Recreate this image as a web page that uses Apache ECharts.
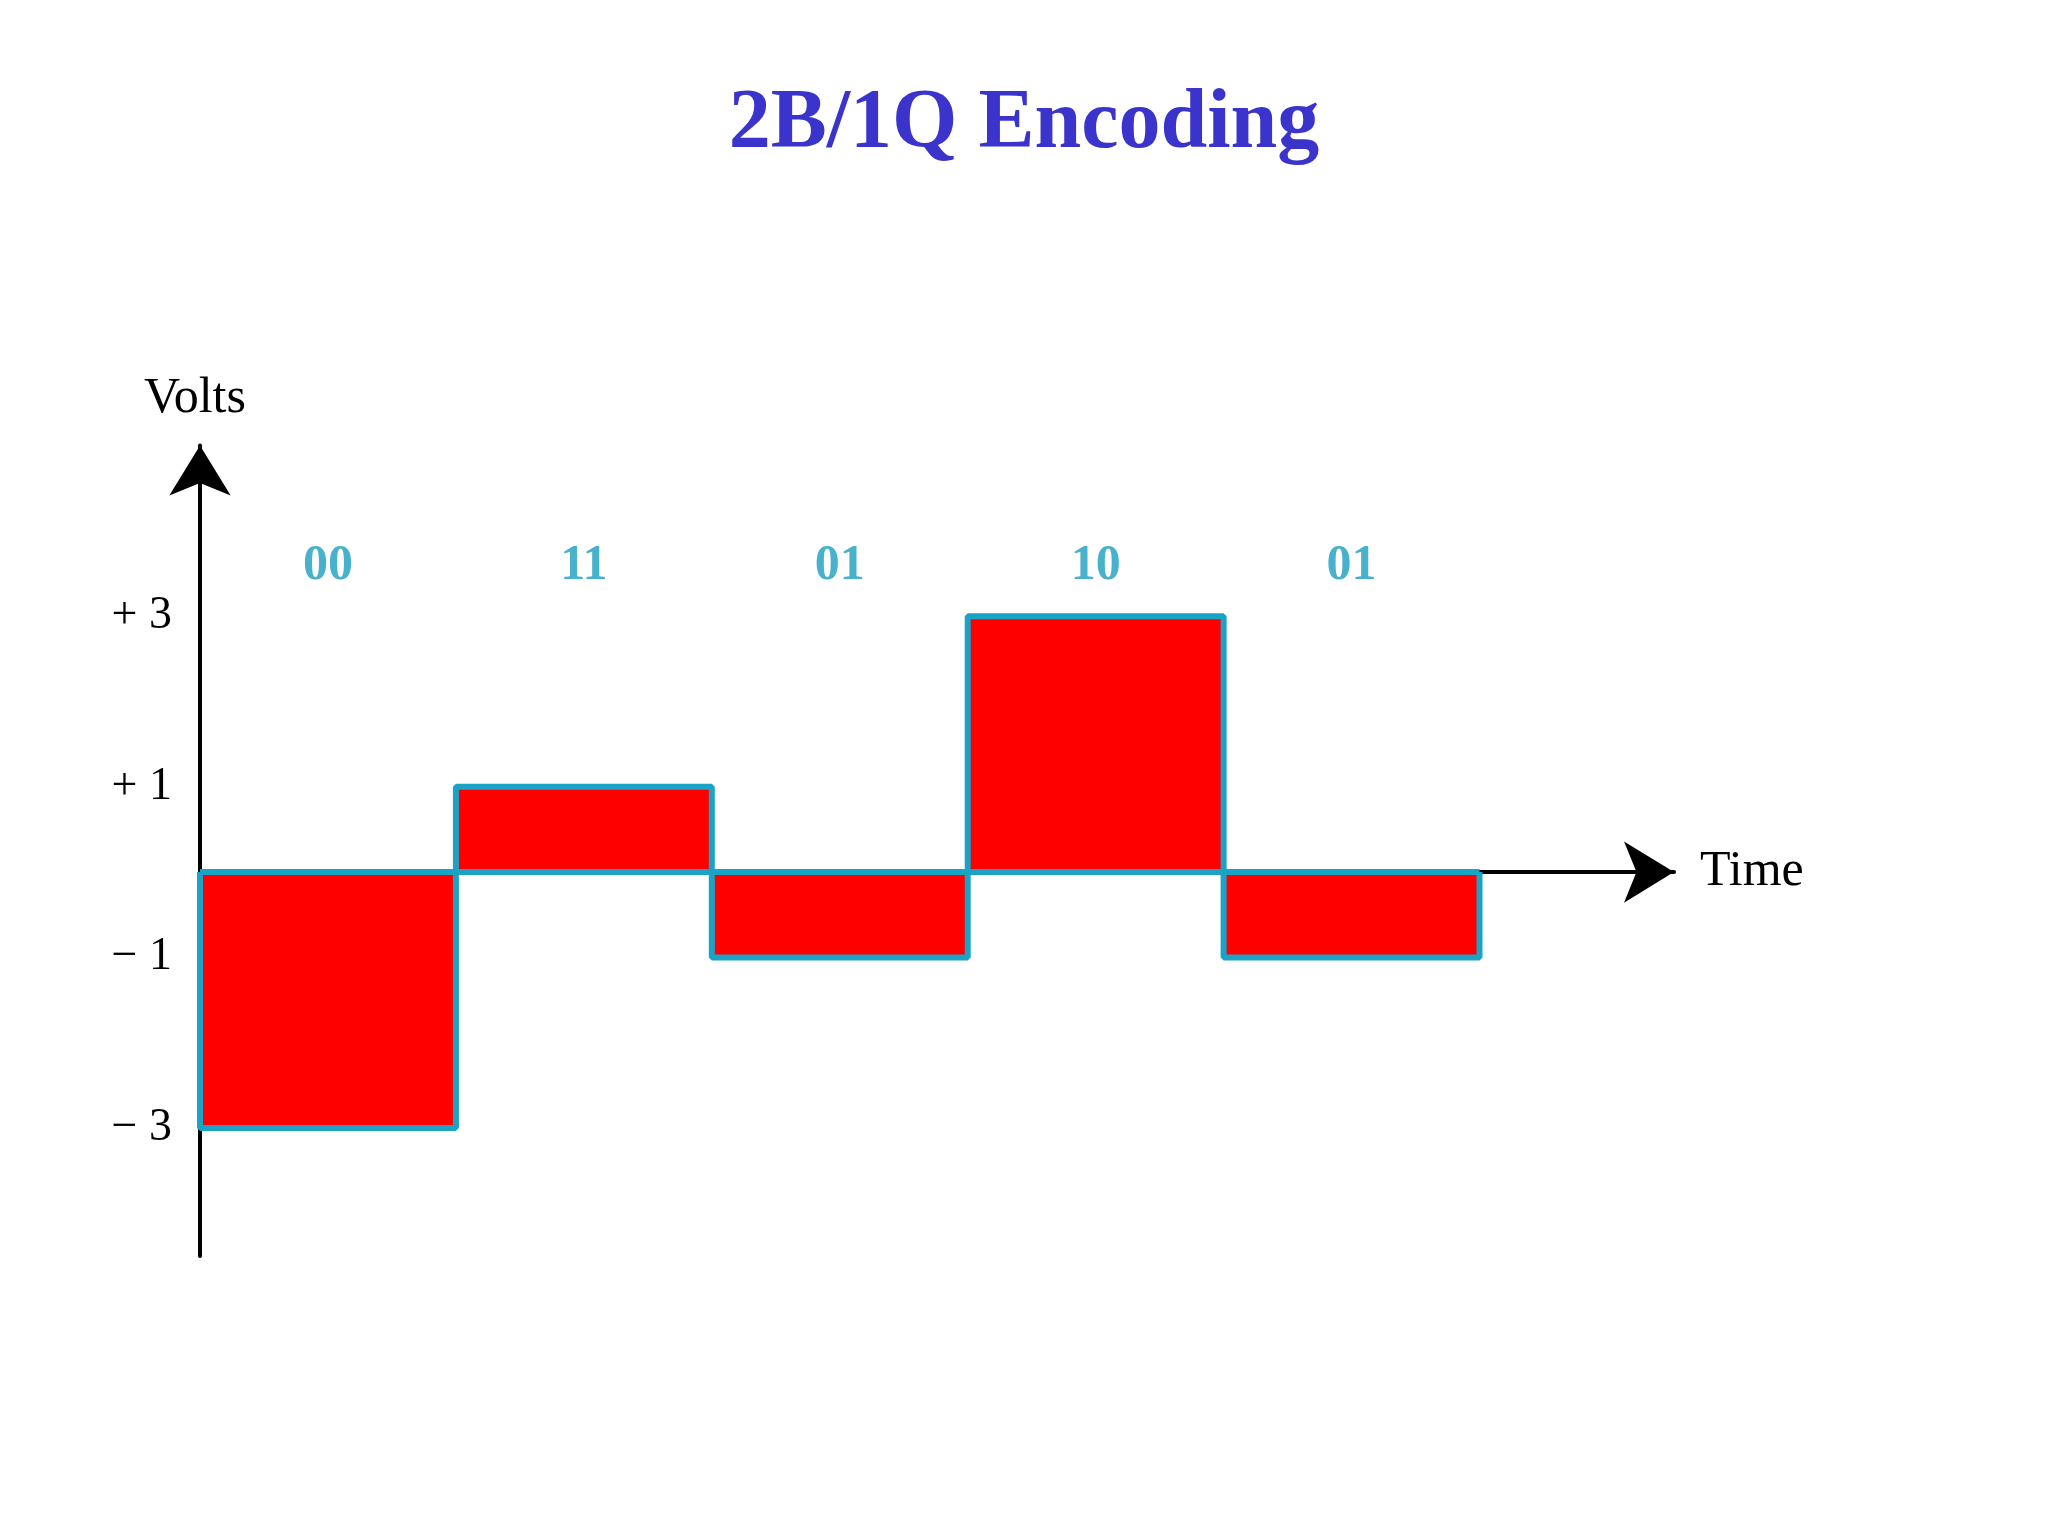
<!DOCTYPE html>
<html><head><meta charset="utf-8">
<script src="https://cdn.jsdelivr.net/npm/echarts@6/dist/echarts.min.js"></script>
<style>html,body{margin:0;background:#fff}#c{width:2048px;height:1536px}</style>
</head><body><div id="c"></div>
<script>
const bits = ['00','11','01','10','01'];
const levels = [-3, 1, -1, 3, -1];
const tickLabels = {'3':'+ 3','1':'+ 1','-1':'− 1','-3':'− 3'};

const stepData = [[0,0]];
levels.forEach((v,i)=>stepData.push([i,v]));
stepData.push([levels.length, levels[levels.length-1]]);
stepData.push([levels.length, 0]);
const bitData = bits.map((b,i)=>[i+0.5, 3.59, b]);

const chart = echarts.init(document.getElementById('c'));
chart.setOption({
  backgroundColor:'#fff',
  animation:false,
  title:{text:'2B/1Q Encoding',left:'center',top:78,
    textStyle:{fontFamily:'Liberation Serif',fontWeight:'bold',fontSize:84,color:'#3a33cc'}},
  grid:{left:200,top:445.5,width:1474,height:810.5},
  xAxis:{type:'value',min:0,max:5.76,
    axisLine:{onZero:true,lineStyle:{color:'#000',width:4},symbol:['none','arrow'],symbolSize:[46,50]},
    axisTick:{show:false},axisLabel:{show:false},splitLine:{show:false},
    name:'Time',nameLocation:'end',nameGap:26,
    nameTextStyle:{fontFamily:'Liberation Serif',fontSize:50,color:'#000'}},
  yAxis:{type:'value',min:-4.5,max:5,interval:0.5,
    axisLine:{lineStyle:{color:'#000',width:4},symbol:['none','arrow'],symbolSize:[46,50]},
    axisTick:{show:false},splitLine:{show:false},
    axisLabel:{fontFamily:'Liberation Serif',fontSize:46,color:'#000',margin:28,
      formatter:v=>tickLabels[String(v)]||''},
    name:'Volts',nameLocation:'end',nameGap:22,
    nameTextStyle:{fontFamily:'Liberation Serif',fontSize:50,color:'#000',align:'left',padding:[0,0,0,-56]}},
  series:[
    {type:'line',step:'end',data:stepData,symbol:'none',
     lineStyle:{color:'#1aa3c4',width:6},
     areaStyle:{color:'#ff0000',opacity:1,origin:0},z:3},
    {type:'line',data:[[0,0],[levels.length,0]],symbol:'none',
     lineStyle:{color:'#1aa3c4',width:6},z:4},
    {type:'scatter',data:bitData,symbolSize:0,
     label:{show:true,position:'inside',formatter:p=>p.data[2],
       fontFamily:'Liberation Serif',fontWeight:'bold',fontSize:50,color:'#1a9fc0'}}
  ]
});
</script></body></html>
